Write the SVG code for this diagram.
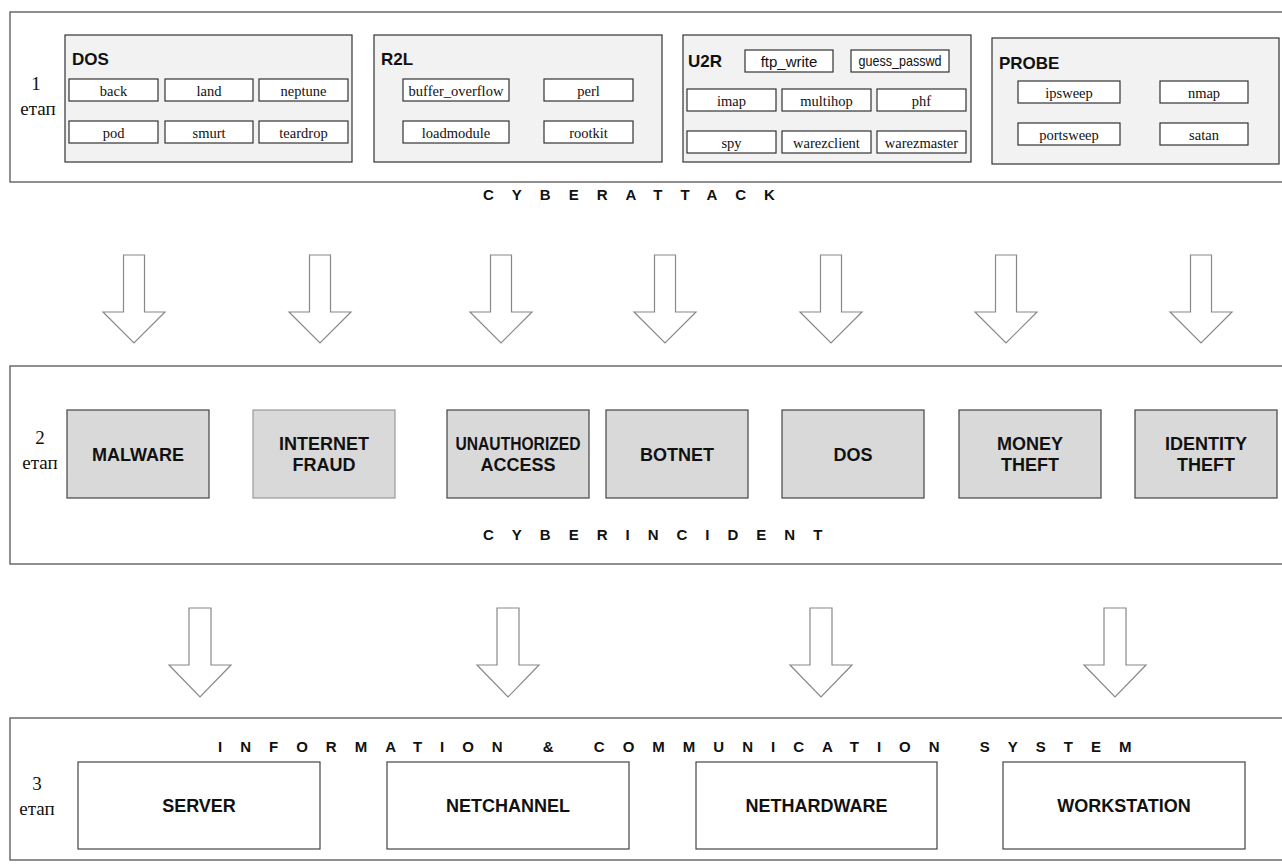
<svg xmlns="http://www.w3.org/2000/svg" width="1282" height="867" viewBox="0 0 1282 867">
<style>
  .stage { fill: #fff; stroke: #555; stroke-width: 1.3; }
  .cat { fill: #f2f2f2; stroke: #333; stroke-width: 1.2; }
  .item { fill: #fff; stroke: #333; stroke-width: 1.2; }
  .inc { fill: #d9d9d9; stroke: #444; stroke-width: 1.2; }
  .inc2 { fill: #d9d9d9; stroke: #999; stroke-width: 1.2; }
  .sys { fill: #fff; stroke: #444; stroke-width: 1.2; }
  .arrow { fill: #fff; stroke: #888; stroke-width: 1.2; }
  .num { font-family: "Liberation Serif", serif; font-size: 19px; fill: #111; text-anchor: middle; }
  .cattl { font-family: "Liberation Sans", Arial, sans-serif; font-size: 17px; font-weight: bold; fill: #111; }
  .it { font-family: "Liberation Serif", serif; font-size: 14.5px; fill: #111; text-anchor: middle; }
  .its { font-family: "Liberation Sans", Arial, sans-serif; font-size: 15px; fill: #111; text-anchor: middle; }
  .lbl { font-family: "Liberation Sans", Arial, sans-serif; font-size: 18px; font-weight: bold; fill: #111; text-anchor: middle; }
  .band { font-family: "Liberation Sans", Arial, sans-serif; font-size: 15px; font-weight: bold; fill: #111; letter-spacing: 18px; }
</style>
<defs>
  <path id="arr1" class="arrow" d="M -10.5 0 L 10.5 0 L 10.5 57 L 31 57 L 0 88 L -31 57 L -10.5 57 Z"/>
  <path id="arr2" class="arrow" d="M -11 0 L 11 0 L 11 57 L 31 57 L 0 89 L -31 57 L -11 57 Z"/>
</defs>

<!-- Stage 1 -->
<g id="stage1">
  <rect class="stage" x="10" y="12" width="1290" height="170"/>
  <text class="num" x="36" y="90">1</text>
  <text class="num" x="38" y="115">етап</text>
  <text class="band" x="483" y="200">CYBERATTACK</text>
</g>

<g id="dos-group">
  <rect class="cat" x="65" y="35" width="287" height="127"/>
  <text class="cattl" x="72" y="65">DOS</text>
  <g id="back"><rect class="item" x="69" y="79" width="89" height="22"/><text class="it" x="113.5" y="96">back</text></g>
  <g id="land"><rect class="item" x="165" y="79" width="88" height="22"/><text class="it" x="209" y="96">land</text></g>
  <g id="neptune"><rect class="item" x="259" y="79" width="89" height="22"/><text class="it" x="303.5" y="96">neptune</text></g>
  <g id="pod"><rect class="item" x="69" y="121" width="89" height="22"/><text class="it" x="113.5" y="138">pod</text></g>
  <g id="smurt"><rect class="item" x="165" y="121" width="88" height="22"/><text class="it" x="209" y="138">smurt</text></g>
  <g id="teardrop"><rect class="item" x="259" y="121" width="89" height="22"/><text class="it" x="303.5" y="138">teardrop</text></g>
</g>

<g id="r2l-group">
  <rect class="cat" x="374" y="35" width="288" height="127"/>
  <text class="cattl" x="381" y="65">R2L</text>
  <g id="buffer_overflow"><rect class="item" x="403" y="79" width="106" height="22"/><text class="it" x="456" y="96">buffer_overflow</text></g>
  <g id="perl"><rect class="item" x="544" y="79" width="89" height="22"/><text class="it" x="588.5" y="96">perl</text></g>
  <g id="loadmodule"><rect class="item" x="403" y="121" width="106" height="22"/><text class="it" x="456" y="138">loadmodule</text></g>
  <g id="rootkit"><rect class="item" x="544" y="121" width="89" height="22"/><text class="it" x="588.5" y="138">rootkit</text></g>
</g>

<g id="u2r-group">
  <rect class="cat" x="683" y="35" width="288" height="127"/>
  <text class="cattl" x="688" y="67">U2R</text>
  <g id="ftp_write"><rect class="item" x="745" y="50" width="88" height="22"/><text class="its" x="789" y="67">ftp_write</text></g>
  <g id="guess_passwd"><rect class="item" x="851" y="50" width="98" height="22"/><text class="its" x="900" y="66" font-size="13" textLength="83" lengthAdjust="spacingAndGlyphs">guess_passwd</text></g>
  <g id="imap"><rect class="item" x="687" y="89" width="89" height="22"/><text class="it" x="731.5" y="106">imap</text></g>
  <g id="multihop"><rect class="item" x="782" y="89" width="89" height="22"/><text class="it" x="826.5" y="106">multihop</text></g>
  <g id="phf"><rect class="item" x="877" y="89" width="89" height="22"/><text class="it" x="921.5" y="106">phf</text></g>
  <g id="spy"><rect class="item" x="687" y="131" width="89" height="22"/><text class="it" x="731.5" y="148">spy</text></g>
  <g id="warezclient"><rect class="item" x="782" y="131" width="89" height="22"/><text class="it" x="826.5" y="148">warezclient</text></g>
  <g id="warezmaster"><rect class="item" x="877" y="131" width="89" height="22"/><text class="it" x="921.5" y="148">warezmaster</text></g>
</g>

<g id="probe-group">
  <rect class="cat" x="992" y="38" width="287" height="126"/>
  <text class="cattl" x="999" y="69">PROBE</text>
  <g id="ipsweep"><rect class="item" x="1018" y="81" width="102" height="22"/><text class="it" x="1069" y="98">ipsweep</text></g>
  <g id="nmap"><rect class="item" x="1160" y="81" width="88" height="22"/><text class="it" x="1204" y="98">nmap</text></g>
  <g id="portsweep"><rect class="item" x="1018" y="123" width="102" height="22"/><text class="it" x="1069" y="140">portsweep</text></g>
  <g id="satan"><rect class="item" x="1160" y="123" width="88" height="22"/><text class="it" x="1204" y="140">satan</text></g>
</g>

<!-- Stage 2 -->
<g id="stage2">
  <rect class="stage" x="10" y="366" width="1290" height="198"/>
  <text class="num" x="40" y="444">2</text>
  <text class="num" x="40" y="469">етап</text>
  <text class="band" x="483" y="540">CYBERINCIDENT</text>
</g>
<g id="malware"><rect class="inc" x="67" y="410" width="142" height="88"/><text class="lbl" x="138" y="461">MALWARE</text></g>
<g id="internet-fraud"><rect class="inc2" x="253" y="410" width="142" height="88"/><text class="lbl" x="324" y="450">INTERNET</text><text class="lbl" x="324" y="471">FRAUD</text></g>
<g id="unauthorized-access"><rect class="inc" x="447" y="410" width="142" height="88"/><text class="lbl" x="518" y="450" textLength="125" lengthAdjust="spacingAndGlyphs">UNAUTHORIZED</text><text class="lbl" x="518" y="471">ACCESS</text></g>
<g id="botnet"><rect class="inc" x="606" y="410" width="142" height="88"/><text class="lbl" x="677" y="461">BOTNET</text></g>
<g id="dos"><rect class="inc" x="782" y="410" width="142" height="88"/><text class="lbl" x="853" y="461">DOS</text></g>
<g id="money-theft"><rect class="inc" x="959" y="410" width="142" height="88"/><text class="lbl" x="1030" y="450">MONEY</text><text class="lbl" x="1030" y="471">THEFT</text></g>
<g id="identity-theft"><rect class="inc" x="1135" y="410" width="142" height="88"/><text class="lbl" x="1206" y="450">IDENTITY</text><text class="lbl" x="1206" y="471">THEFT</text></g>

<!-- Stage 3 -->
<g id="stage3">
  <rect class="stage" x="10" y="718" width="1290" height="142"/>
  <text class="num" x="37" y="790">3</text>
  <text class="num" x="37" y="815">етап</text>
  <text class="band" x="218" y="752" letter-spacing="17.4">INFORMATION &amp; COMMUNICATION SYSTEM</text>
</g>
<g id="server"><rect class="sys" x="78" y="762" width="242" height="87"/><text class="lbl" x="199" y="812">SERVER</text></g>
<g id="netchannel"><rect class="sys" x="387" y="762" width="242" height="87"/><text class="lbl" x="508" y="812">NETCHANNEL</text></g>
<g id="nethardware"><rect class="sys" x="696" y="762" width="241" height="87"/><text class="lbl" x="816.5" y="812">NETHARDWARE</text></g>
<g id="workstation"><rect class="sys" x="1003" y="762" width="242" height="87"/><text class="lbl" x="1124" y="812">WORKSTATION</text></g>

<!-- Connectors -->
<g id="connectors">
  <use href="#arr1" x="134" y="255"/>
  <use href="#arr1" x="320" y="255"/>
  <use href="#arr1" x="501" y="255"/>
  <use href="#arr1" x="665" y="255"/>
  <use href="#arr1" x="831" y="255"/>
  <use href="#arr1" x="1006" y="255"/>
  <use href="#arr1" x="1201" y="255"/>
  <use href="#arr2" x="200" y="608"/>
  <use href="#arr2" x="508" y="608"/>
  <use href="#arr2" x="821" y="608"/>
  <use href="#arr2" x="1115" y="608"/>
</g>
</svg>
